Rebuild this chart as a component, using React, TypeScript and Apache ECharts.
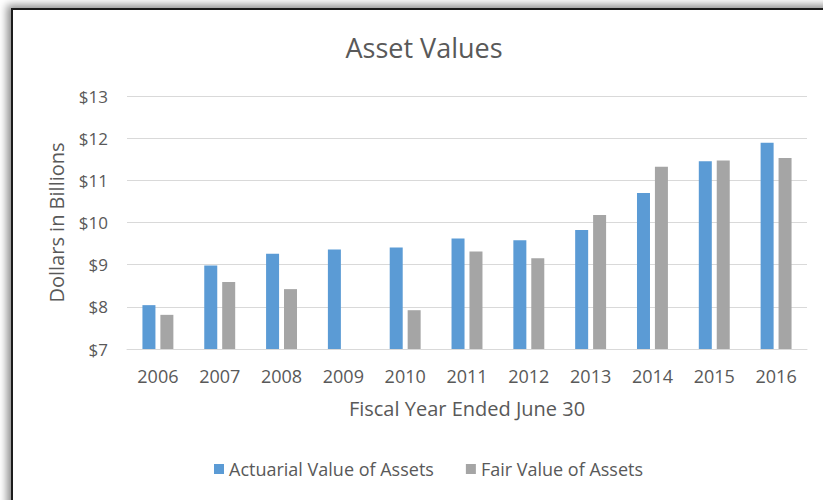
import React, { useEffect, useRef } from "react";
import * as echarts from "echarts";

const years = ["2006", "2007", "2008", "2009", "2010", "2011", "2012", "2013", "2014", "2015", "2016"];
const actuarialValue = [8.04, 8.98, 9.26, 9.36, 9.41, 9.62, 9.58, 9.82, 10.7, 11.45, 11.89];
const fairValue = [7.81, 8.59, 8.42, 6.97, 7.92, 9.31, 9.15, 10.18, 11.32, 11.47, 11.53];
const seriesNames = ["Actuarial Value of Assets", "Fair Value of Assets"];
const colors = ["#5B9BD5", "#A5A5A5"];

const FONT = "'Open Sans', sans-serif";
const TXT = "#595959";

export default function App() {
  const ref = useRef<HTMLDivElement>(null);
  useEffect(() => {
    if (!ref.current) return;
    const chart = echarts.init(ref.current, undefined, { renderer: "svg" });
    chart.setOption({
      animation: false,
      title: {
        text: "Asset Values",
        left: 419,
        textAlign: "center",
        top: 29,
        textStyle: { fontFamily: FONT, fontSize: 27, fontWeight: "normal", color: TXT },
      },
      legend: {
        left: 209,
        top: 455,
        itemWidth: 10,
        itemHeight: 10,
        itemGap: 32,
        icon: "rect",
        textStyle: { fontFamily: FONT, fontSize: 18, color: TXT },
        data: seriesNames,
      },
      grid: { left: 127, right: 16, top: 96, bottom: 151, containLabel: false },
      xAxis: {
        type: "category",
        data: years,
        name: "Fiscal Year Ended June 30",
        nameLocation: "middle",
        nameGap: 49,
        nameTextStyle: { fontFamily: FONT, fontSize: 20, color: TXT },
        axisLine: { lineStyle: { color: "#D9D9D9" } },
        axisTick: { show: false },
        axisLabel: { fontFamily: FONT, fontSize: 18, color: TXT, margin: 18 },
      },
      yAxis: {
        type: "value",
        min: 7,
        max: 13,
        interval: 1,
        name: "Dollars in Billions",
        nameLocation: "middle",
        nameGap: 61,
        nameTextStyle: { fontFamily: FONT, fontSize: 20, color: TXT },
        axisLine: { show: false },
        axisTick: { show: false },
        splitLine: { lineStyle: { color: "#D9D9D9", width: 1 } },
        axisLabel: {
          fontFamily: FONT,
          fontSize: 17,
          color: TXT,
          margin: 19,
          formatter: (v: number) => "$" + v,
        },
      },
      series: [
        {
          name: seriesNames[0],
          type: "bar",
          data: actuarialValue,
          barWidth: 13,
          barGap: "38%",
          itemStyle: { color: colors[0] },
        },
        {
          name: seriesNames[1],
          type: "bar",
          data: fairValue,
          barWidth: 13,
          itemStyle: { color: colors[1] },
        },
      ],
    });
    return () => chart.dispose();
  }, []);

  return (
    <div
      style={{
        position: "fixed",
        left: 0,
        top: 0,
        width: 823,
        height: 500,
        overflow: "hidden",
        background: "#ffffff",
      }}
    >
      <div
        style={{
          position: "absolute",
          left: 11,
          top: 8,
          width: 900,
          height: 600,
          borderLeft: "2px solid #1c1c1c",
          borderTop: "2px solid #1c1c1c",
          boxShadow: "-4px -3px 8px rgba(0,0,0,0.45)",
          background: "#ffffff",
        }}
      />
      <div ref={ref} style={{ position: "absolute", left: 0, top: 0, width: 823, height: 500 }} />
    </div>
  );
}
